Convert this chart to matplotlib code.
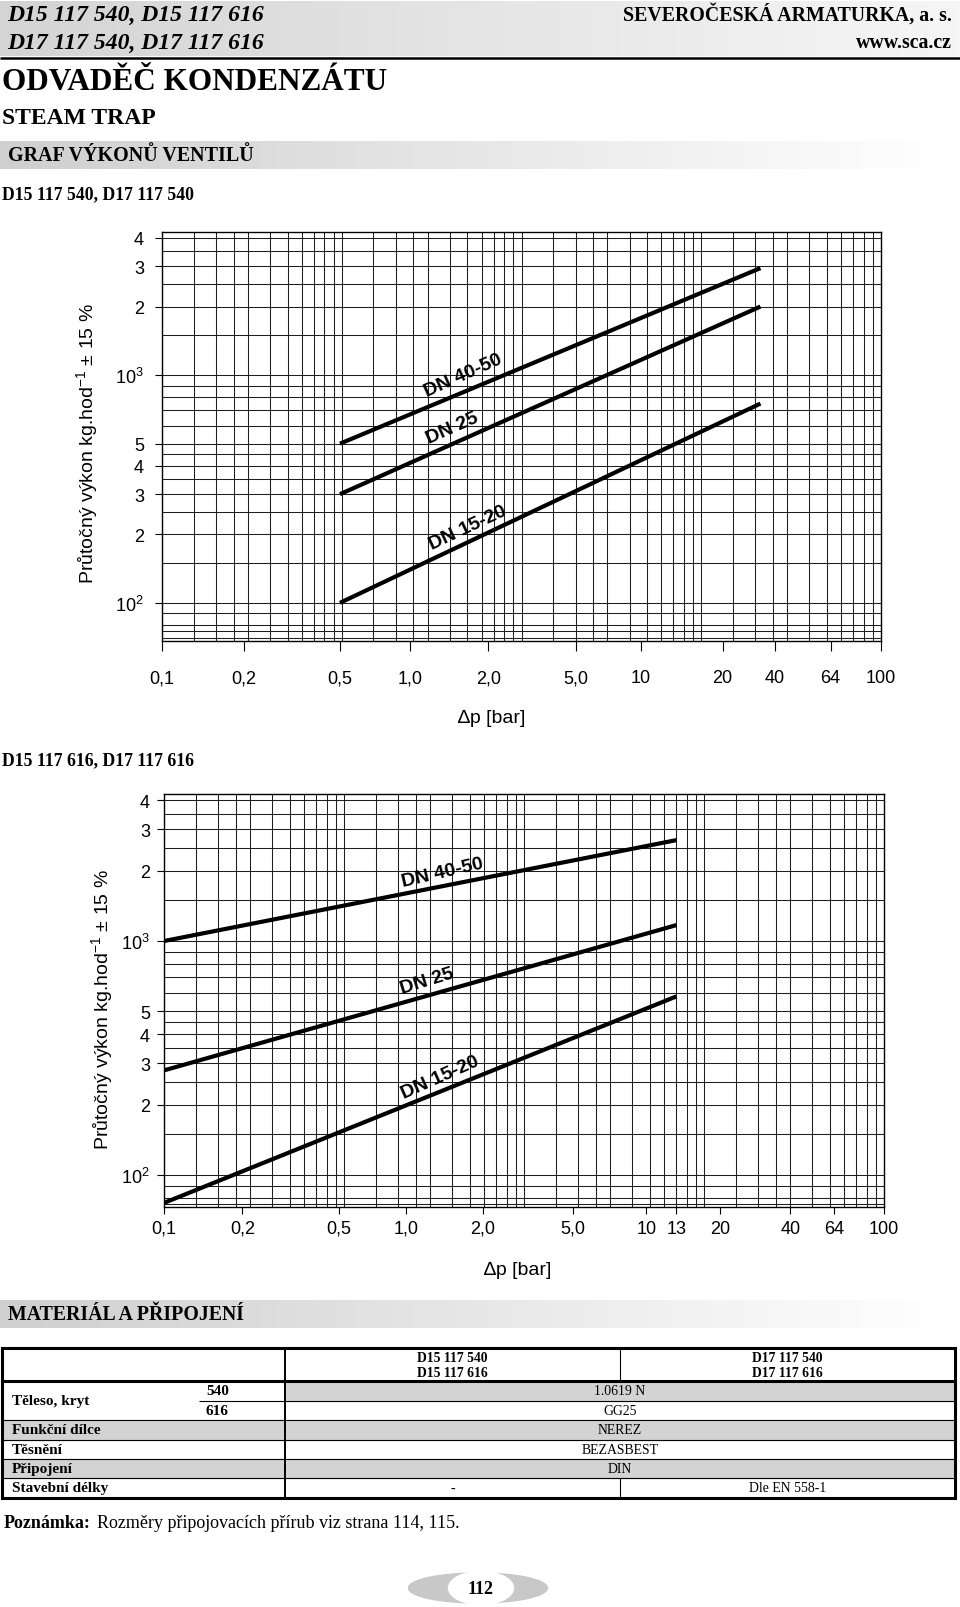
import numpy as np
import matplotlib
matplotlib.use("Agg")
import matplotlib.pyplot as plt
from matplotlib.colors import LinearSegmentedColormap
from matplotlib.patches import Rectangle, Ellipse

plt.rcParams['font.family'] = ['Liberation Sans', 'DejaVu Sans']
plt.rcParams['mathtext.fontset'] = 'custom'
plt.rcParams['mathtext.rm'] = 'Liberation Sans'
plt.rcParams['mathtext.it'] = 'Liberation Sans:italic'
plt.rcParams['mathtext.bf'] = 'Liberation Sans:bold'
SERIF = ['Liberation Serif', 'DejaVu Serif']

# ---- data read from the page ----
SERIES = ['DN 40-50', 'DN 25', 'DN 15-20']

# graf 1: D15 117 540, D17 117 540  (Δp [bar] -> kg/h)
P1 = [0.5, 33]
Q1_DN4050 = [500, 2950]
Q1_DN25 = [300, 2000]
Q1_DN1520 = [100, 750]

# graf 2: D15 117 616, D17 117 616
P2 = [0.1, 13]
Q2_DN4050 = [1000, 2700]
Q2_DN25 = [280, 1170]
Q2_DN1520 = [76, 580]

X_TICKS_1 = [0.1, 0.2, 0.5, 1, 2, 5, 10, 20, 40, 64, 100]
X_LABELS_1 = ['0,1', '0,2', '0,5', '1,0', '2,0', '5,0', '10', '20', '40', '64', '100']
X_TICKS_2 = [0.1, 0.2, 0.5, 1, 2, 5, 10, 13, 20, 40, 64, 100]
X_LABELS_2 = ['0,1', '0,2', '0,5', '1,0', '2,0', '5,0', '10', '13', '20', '40', '64', '100']
Y_TICKS = [100, 200, 300, 400, 500, 1000, 2000, 3000, 4000]
Y_LABELS = ['10$^2$', '2', '3', '4', '5', '10$^3$', '2', '3', '4']
Y_GRID = [70, 75, 80, 90, 100, 150, 200, 250, 300, 350, 400, 450, 500, 600,
          700, 800, 900, 1000, 1500, 2000, 2500, 3000, 3500, 4000]

TABLE_HEAD = ['D15 117 540\nD15 117 616', 'D17 117 540\nD17 117 616']
TABLE_LABELS = ['Funkční dílce', 'Těsnění', 'Připojení', 'Stavební délky']
TELESO = ['540', '616']
TELESO_VALUES = ['1.0619 N', 'GG25']
TABLE_VALUES = ['NEREZ', 'BEZASBEST', 'DIN']
DELKY = ['-', 'Dle EN 558-1']

# the printed Δp scale is uneven: where each labelled value sits, in decades of the grid paper
X_TICK_POS_1 = [0, 0.4545, 0.990, 1.380, 1.815, 2.302, 2.663, 3.119, 3.410, 3.720, 4.0]
X_TICK_POS_2 = [0, 0.436, 0.971, 1.347, 1.772, 2.272, 2.680, 2.847, 3.091, 3.480, 3.722, 4.0]
GRID_STEPS = [1, 1.5, 2, 2.5, 3, 4, 5, 6, 7, 8, 9]

W, H = 960, 1608
fig = plt.figure(figsize=(W / 100, H / 100), dpi=100)
page = fig.add_axes([0, 0, 1, 1], zorder=0)
page.axis('off')


def gradient(x0, x1, y0, y1, c0, c1):
    cm = LinearSegmentedColormap.from_list('g', [c0, c1])
    page.imshow(np.linspace(0, 1, 256)[None, :], cmap=cm, aspect='auto',
                extent=(x0, x1, y1, y0), interpolation='bilinear', zorder=0)


def ptext(x, y, s, size, weight='bold', style='normal', ha='left', family=SERIF, **kw):
    page.text(x, y, s, fontsize=size, fontweight=weight, fontstyle=style, ha=ha,
              va='center', family=family, **kw)


# header
gradient(0, 960, 2, 57, '#d4d4d4', '#f6f6f6')
page.plot([0, 960], [58.5, 58.5], color='black', lw=1.8, solid_capstyle='butt')
ptext(7, 15, 'D15 117 540, D15 117 616', 17, style='italic')
ptext(7, 43, 'D17 117 540, D17 117 616', 17, style='italic')
ptext(952, 15, 'SEVEROČESKÁ ARMATURKA, a. s.', 14.3, ha='right')
ptext(952, 43, 'www.sca.cz', 14.3, ha='right')
ptext(2, 82, 'ODVADĚČ KONDENZÁTU', 22.5)
ptext(2, 119, 'STEAM TRAP', 17)
gradient(0, 945, 142, 170, '#cfcfcf', '#ffffff')
ptext(8, 156, 'GRAF VÝKONŮ VENTILŮ', 14.4)
ptext(2, 195, 'D15 117 540, D17 117 540', 12.8)
ptext(2, 761, 'D15 117 616, D17 117 616', 12.8)


def paper_scale(ticks, pos):
    lt = np.log10(ticks)

    def fwd(x):
        x = np.clip(np.asarray(x, float), 1e-6, None)
        return np.interp(np.log10(x), lt, pos)

    def inv(g):
        return 10 ** np.interp(g, pos, lt)
    return fwd, inv


def chart(box, p, curves, ticks, labels, tick_pos, ylim, xlen, xpad, ypad, dn_pos):
    left, top, right, bottom = box
    ax = fig.add_axes([left / W, 1 - bottom / H, (right - left) / W, (bottom - top) / H], zorder=1)
    fwd, inv = paper_scale(ticks, tick_pos)
    ax.set_xscale('function', functions=(fwd, inv))
    ax.set_yscale('log')
    ax.set_xlim(ticks[0], ticks[-1])
    ax.set_ylim(*ylim)
    for d in range(4):
        for k in GRID_STEPS:
            ax.axvline(inv(d + np.log10(k)), color='#1e1e1e', lw=0.75, zorder=1)
    for v in Y_GRID:
        if ylim[0] < v < ylim[1]:
            ax.axhline(v, color='#1e1e1e', lw=0.75, zorder=1)
    for q in curves:
        ax.plot(p, q, color='black', lw=3.0, solid_capstyle='butt', zorder=3)
    for name, (fx, fy, rot) in zip(SERIES, dn_pos):
        ax.text(fx, fy, name, transform=ax.transAxes, fontsize=14, fontweight='bold',
                rotation=rot, ha='center', va='center', rotation_mode='anchor', zorder=4)
    ax.set_xticks(ticks)
    ax.set_xticklabels(labels)
    ax.xaxis.set_minor_locator(plt.NullLocator())
    ax.set_yticks(Y_TICKS)
    ax.set_yticklabels(Y_LABELS)
    ax.yaxis.set_minor_locator(plt.NullLocator())
    ax.tick_params(axis='x', direction='out', length=xlen, width=0.8, pad=xpad, labelsize=13)
    ax.tick_params(axis='y', direction='out', length=5, width=0.8, pad=ypad, labelsize=13)
    for s in ax.spines.values():
        s.set_linewidth(1.0)
    return ax


chart((162, 233, 881, 642), P1, [Q1_DN4050, Q1_DN25, Q1_DN1520], X_TICKS_1, X_LABELS_1,
      X_TICK_POS_1, (68, 4250), 7.2, 13, 8,
      [(0.419, 0.651, 24), (0.404, 0.521, 24), (0.426, 0.278, 25)])
ptext(87, 444, 'Průtočný výkon kg.hod$^{-1}$ ± 15 %', 14, weight='normal',
      family=['Liberation Sans', 'DejaVu Sans'], rotation=90, ha='center')
ptext(492, 718, '∆p [bar]', 14, weight='normal', family=['Liberation Sans', 'DejaVu Sans'], ha='center')

chart((164, 795, 884, 1208), P2, [Q2_DN4050, Q2_DN25, Q2_DN1520], X_TICKS_2, X_LABELS_2,
      X_TICK_POS_2, (73, 4250), 5, 4, 5,
      [(0.3865, 0.810, 13), (0.3657, 0.548, 17), (0.384, 0.316, 24)])
ptext(102, 1010, 'Průtočný výkon kg.hod$^{-1}$ ± 15 %', 14, weight='normal',
      family=['Liberation Sans', 'DejaVu Sans'], rotation=90, ha='center')
ptext(518, 1270, '∆p [bar]', 14, weight='normal', family=['Liberation Sans', 'DejaVu Sans'], ha='center')

# materiál a připojení
gradient(0, 945, 1301, 1329, '#cfcfcf', '#ffffff')
ptext(8, 1315, 'MATERIÁL A PŘIPOJENÍ', 14.3)

x0, xa, xb, xc, x1 = 2, 199, 285, 620, 955
rows = [1349, 1382, 1402, 1421, 1441, 1460, 1479, 1499]
gray = '#d3d3d3'
page.add_patch(Rectangle((xb, rows[1]), x1 - xb, rows[2] - rows[1], color=gray, zorder=1))
page.add_patch(Rectangle((x0, rows[3]), x1 - x0, rows[4] - rows[3], color=gray, zorder=1))
page.add_patch(Rectangle((x0, rows[5]), x1 - x0, rows[6] - rows[5], color=gray, zorder=1))
lk = dict(color='black', solid_capstyle='butt', zorder=2)
page.plot([xa, x1], [rows[2]] * 2, lw=0.8, **lk)
for y in rows[3:7]:
    page.plot([x0, x1], [y, y], lw=0.8, **lk)
page.plot([xb, xb], [rows[0], rows[-1]], lw=1.4, **lk)
page.plot([xc, xc], [rows[0], rows[1]], lw=0.8, **lk)
page.plot([xc, xc], [rows[6], rows[7]], lw=0.8, **lk)
page.plot([x0, x1], [rows[1]] * 2, lw=2.2, **lk)
page.add_patch(Rectangle((x0, rows[0]), x1 - x0, rows[-1] - rows[0], fill=False,
                         ec='black', lw=2.2, zorder=3))

mid = lambda i: (rows[i] + rows[i + 1]) / 2
for xcen, head in zip([(xb + xc) / 2, (xc + x1) / 2], TABLE_HEAD):
    for j, line in enumerate(head.split('\n')):
        ptext(xcen, 1359 + 15 * j, line, 9.8, ha='center')
ptext(12, rows[2], 'Těleso, kryt', 11)
for i, (code, val) in enumerate(zip(TELESO, TELESO_VALUES)):
    ptext(206, mid(1 + i), code, 11)
    ptext((xb + x1) / 2, mid(1 + i), val, 9.9, weight='normal', ha='center')
for i, lab in enumerate(TABLE_LABELS):
    ptext(12, mid(3 + i), lab, 11)
for i, val in enumerate(TABLE_VALUES):
    ptext((xb + x1) / 2, mid(3 + i), val, 9.9, weight='normal', ha='center')
ptext((xb + xc) / 2, mid(6), DELKY[0], 9.9, weight='normal', ha='center')
ptext((xc + x1) / 2, mid(6), DELKY[1], 9.9, weight='normal', ha='center')

ptext(4, 1524, 'Poznámka:', 13)
ptext(97, 1524, 'Rozměry připojovacích přírub viz strana 114, 115.', 13, weight='normal')

# page number
page.add_patch(Ellipse((478, 1589), 139, 30, color='#c8c8c8', zorder=1))
page.add_patch(Ellipse((481, 1589), 65, 33, color='white', zorder=2))
ptext(481, 1590, '112', 13, ha='center', zorder=3)

page.set_xlim(0, W)
page.set_ylim(H, 0)
fig.savefig('out.png', dpi=100)
